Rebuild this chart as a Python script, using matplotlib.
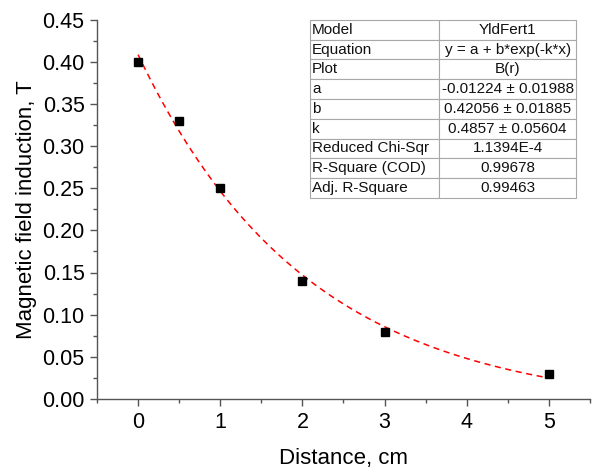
import matplotlib
matplotlib.use("Agg")
import matplotlib.pyplot as plt
import numpy as np

plt.rcParams['font.family'] = ['Liberation Sans', 'DejaVu Sans']

# measured points
distance = [0, 0.5, 1, 2, 3, 5]
induction = [0.40, 0.33, 0.25, 0.14, 0.08, 0.03]

# fit parameters shown in the table (y = a + b*exp(-k*x))
a_fit = -0.01224
b_fit = 0.42056
k_fit = 0.4857

table_keys = ["Model", "Equation", "Plot", "a", "b", "k",
              "Reduced Chi-Sqr", "R-Square (COD)", "Adj. R-Square"]
table_vals = ["YldFert1", "y = a + b*exp(-k*x)", "B(r)",
              "-0.01224 \u00b1 0.01988", "0.42056 \u00b1 0.01885",
              "0.4857 \u00b1 0.05604", "1.1394E-4", "0.99678", "0.99463"]

fig = plt.figure(figsize=(5.95, 4.75), dpi=100)
ax = fig.add_axes([97/595, 76/475, 493/595, 379.5/475])

xf = np.linspace(min(distance), max(distance), 200)
yf = a_fit + b_fit*np.exp(-k_fit*xf)
ax.plot(xf, yf, color='red', linestyle=(0, (4, 3)), linewidth=1.1)
ax.plot(distance, induction, 's', color='black', markersize=5.6, linestyle='none')

ax.set_xlim(-0.5, 5.5)
ax.set_ylim(0, 0.45)
ax.set_xticks([0, 1, 2, 3, 4, 5])
ax.set_xticks(np.arange(-0.5, 5.6, 1.0), minor=True)
ax.set_yticks(np.arange(0, 0.451, 0.05))
ax.set_yticks(np.arange(0.025, 0.45, 0.05), minor=True)
ax.yaxis.set_major_formatter(matplotlib.ticker.FormatStrFormatter('%.2f'))

for s in ['top', 'right']:
    ax.spines[s].set_visible(False)
for s in ['left', 'bottom']:
    ax.spines[s].set_color('#555555')
    ax.spines[s].set_linewidth(1.0)
ax.tick_params(which='major', direction='out', length=5, width=1, color='#555555',
               labelsize=15.5, pad=4)
ax.tick_params(which='minor', direction='out', length=3, width=1, color='#555555')
ax.set_xlabel("Distance, cm", fontsize=16, labelpad=11)
ax.set_ylabel("Magnetic field induction, T", fontsize=16, labelpad=4)

cells = [[k, v] for k, v in zip(table_keys, table_vals)]
tb = ax.table(cellText=cells, bbox=[0.432, 0.53, 0.540, 0.469],
              colWidths=[0.485, 0.515], cellLoc='left')
tb.auto_set_font_size(False)
tb.set_fontsize(11)
for (r, c), cell in tb.get_celld().items():
    cell.set_edgecolor('#a8a8a8')
    cell.set_linewidth(0.8)
    cell.PAD = 0.015
    cell.get_text().set_color('#111111')
    if c == 1:
        cell.get_text().set_ha('center')
        cell._loc = 'center'

fig.savefig("out.png", dpi=100)
